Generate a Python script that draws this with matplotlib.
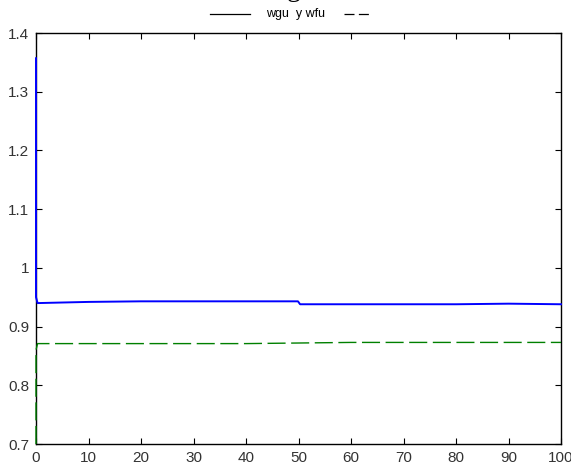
import matplotlib
matplotlib.use("Agg")
import matplotlib.pyplot as plt
from matplotlib.lines import Line2D

# === DATOS ===
t_wgu = [0.0, 0.0, 0.3, 10, 20, 30, 40, 49.9, 50.3, 60, 70, 80, 90, 100]
wgu = [1.357, 0.95, 0.940, 0.942, 0.943, 0.943, 0.943, 0.943, 0.938, 0.938, 0.938, 0.938, 0.939, 0.938]

t_wfu = [0.0, 0.0, 0.3, 10, 20, 30, 40, 50, 60, 70, 80, 90, 100]
wfu = [0.70, 0.86, 0.871, 0.871, 0.871, 0.871, 0.871, 0.872, 0.873, 0.873, 0.873, 0.873, 0.873]

xticks = [0, 10, 20, 30, 40, 50, 60, 70, 80, 90, 100]
yticks = [0.7, 0.8, 0.9, 1.0, 1.1, 1.2, 1.3, 1.4]
ylabels = ["0.7", "0.8", "0.9", "1", "1.1", "1.2", "1.3", "1.4"]

plt.rcParams['font.family'] = ['Liberation Sans', 'DejaVu Sans']

fig = plt.figure(figsize=(5.71, 4.68), dpi=100)
ax = fig.add_axes([36 / 571, 24 / 468, 525 / 571, 411 / 468])

ax.plot(t_wgu, wgu, color='#0000ff', lw=1.4, zorder=3, clip_on=False)
ln, = ax.plot(t_wfu, wfu, color='#008000', lw=1.0, zorder=3, clip_on=False)
ln.set_dashes((13, 4))

ax.set_xlim(0, 100)
ax.set_ylim(0.7, 1.4)
ax.set_xticks(xticks)
ax.set_xticklabels([str(v) for v in xticks])
ax.set_yticks(yticks)
ax.set_yticklabels(ylabels)
ax.tick_params(direction='in', length=4, top=True, right=True, labelsize=11,
               labelcolor='#333333', pad=5)
for s in ax.spines.values():
    s.set_linewidth(1.0)

# === TITULO ===
fig.text(0.515, 1.0 + 4 / 468, "g", family='Liberation Serif', fontsize=20,
         ha='center', va='baseline')
fig.text(296 / 571, 1 - 14 / 468, "wgu  y wfu", fontsize=9, ha='center', va='center')
fig.add_artist(Line2D([210 / 571, 250 / 571], [1 - 14 / 468, 1 - 14 / 468],
                      color='black', lw=0.9, transform=fig.transFigure))
fig.add_artist(Line2D([344 / 571, 371 / 571], [1 - 14 / 468, 1 - 14 / 468],
                      color='black', lw=0.9, dashes=(8, 3.5), transform=fig.transFigure))

fig.savefig("out.png", dpi=100)
